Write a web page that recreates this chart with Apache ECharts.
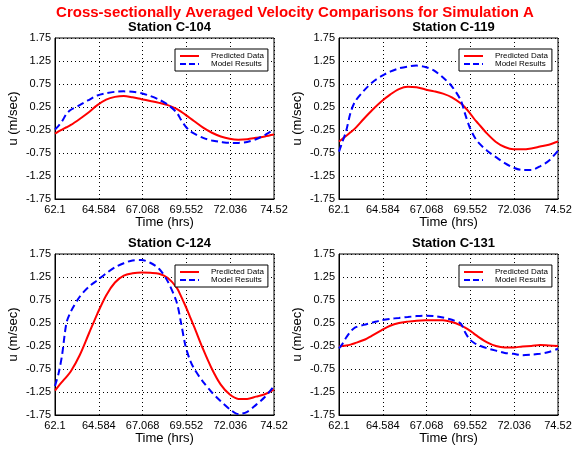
<!DOCTYPE html>
<html>
<head>
<meta charset="UTF-8">
<title>Velocity Comparisons</title>
<script src="https://cdn.jsdelivr.net/npm/echarts@6/dist/echarts.min.js"></script>
<style>
  html, body { margin: 0; padding: 0; background: #fff; }
  #main { width: 577px; height: 453px; }
</style>
</head>
<body>
<div id="main"></div>
<script>
// time samples (hrs), shared by every curve
var times = [62.1, 62.3, 62.5, 62.75, 63, 63.5, 64, 64.5, 65, 65.5, 66, 66.5, 67, 67.5, 68,
  68.5, 69, 69.25, 69.5, 69.75, 70, 70.5, 71, 71.5, 72, 72.5, 73, 73.5, 74, 74.52];

var c104Pred = [-0.33, -0.28, -0.24, -0.19, -0.14, -0.01, 0.13, 0.29, 0.41, 0.47, 0.49, 0.46, 0.42, 0.38, 0.34,
  0.29, 0.21, 0.15, 0.08, 0.01, -0.06, -0.20, -0.31, -0.39, -0.44, -0.46, -0.45, -0.42, -0.39, -0.35];
var c104Model = [-0.24, -0.16, -0.06, 0.10, 0.19, 0.29, 0.40, 0.50, 0.55, 0.58, 0.59, 0.58, 0.55, 0.49, 0.41,
  0.30, 0.13, -0.03, -0.17, -0.27, -0.33, -0.42, -0.48, -0.51, -0.53, -0.53, -0.51, -0.45, -0.36, -0.24];

var c119Pred = [-0.50, -0.44, -0.38, -0.30, -0.22, -0.01, 0.19, 0.37, 0.52, 0.64, 0.69, 0.68, 0.63, 0.59, 0.54,
  0.46, 0.33, 0.24, 0.13, 0.00, -0.11, -0.33, -0.51, -0.62, -0.67, -0.67, -0.65, -0.61, -0.57, -0.50];
var c119Model = [-0.72, -0.50, -0.28, 0.12, 0.36, 0.60, 0.79, 0.92, 1.02, 1.09, 1.13, 1.15, 1.12, 1.04, 0.89,
  0.70, 0.40, 0.10, -0.18, -0.38, -0.52, -0.70, -0.84, -0.97, -1.07, -1.12, -1.12, -1.04, -0.92, -0.70];

var c124Pred = [-1.22, -1.12, -1.03, -0.92, -0.80, -0.45, 0.00, 0.45, 0.85, 1.13, 1.28, 1.33, 1.35, 1.34, 1.32,
  1.23, 1.02, 0.83, 0.62, 0.39, 0.16, -0.32, -0.75, -1.09, -1.30, -1.40, -1.40, -1.35, -1.30, -1.20];
var c124Model = [-1.12, -0.85, -0.45, 0.25, 0.50, 0.82, 1.03, 1.18, 1.33, 1.46, 1.55, 1.61, 1.62, 1.56, 1.43,
  1.15, 0.70, 0.25, -0.25, -0.55, -0.75, -1.03, -1.26, -1.45, -1.62, -1.73, -1.68, -1.53, -1.36, -1.12];

var c131Pred = [-0.26, -0.25, -0.24, -0.22, -0.19, -0.12, -0.02, 0.09, 0.19, 0.25, 0.28, 0.30, 0.31, 0.31, 0.31,
  0.27, 0.20, 0.15, 0.09, 0.02, -0.05, -0.17, -0.25, -0.28, -0.28, -0.26, -0.25, -0.23, -0.24, -0.25];
var c131Model = [-0.30, -0.20, -0.07, 0.06, 0.15, 0.21, 0.26, 0.31, 0.34, 0.36, 0.38, 0.40, 0.41, 0.40, 0.37,
  0.32, 0.24, 0.05, -0.10, -0.18, -0.23, -0.30, -0.35, -0.40, -0.42, -0.45, -0.44, -0.42, -0.38, -0.31];

var stations = ['Station C-104', 'Station C-119', 'Station C-124', 'Station C-131'];
var predicted = [c104Pred, c119Pred, c124Pred, c131Pred];
var modelled = [c104Model, c119Model, c124Model, c131Model];

var xTicks = [62.1, 64.584, 67.068, 69.552, 72.036, 74.52];
var yTicks = [-1.75, -1.25, -0.75, -0.25, 0.25, 0.75, 1.25, 1.75];

var font = 'Liberation Sans, Arial, Helvetica, sans-serif';
// plot boxes: [left, top]
var boxes = [[55, 38], [339, 38], [55, 254], [339, 254]];
var boxW = 219, boxH = 161;
var dash = [7, 4];

function nearestLabel(ticks, v, digits) {
  var best = ticks[0];
  ticks.forEach(function (t) { if (Math.abs(t - v) < Math.abs(best - v)) best = t; });
  return digits ? best.toFixed(digits) : String(best);
}

function pairs(ys) {
  return times.map(function (t, i) { return [t, ys[i]]; });
}

var grids = [], xAxes = [], yAxes = [], series = [], legends = [];
var titles = [{
  text: 'Cross-sectionally Averaged Velocity Comparisons for Simulation A',
  left: 290, top: 0, textAlign: 'center',
  textStyle: { color: '#ff0000', fontSize: 15, fontWeight: 'bold', fontFamily: font }
}];

boxes.forEach(function (b, i) {
  grids.push({ left: b[0], top: b[1], width: boxW, height: boxH,
    show: true, borderColor: '#000', borderWidth: 1, backgroundColor: '#fff' });

  titles.push({
    text: stations[i], left: b[0] + boxW / 2, top: b[1] - 22, textAlign: 'center',
    textStyle: { color: '#000', fontSize: 13, fontWeight: 'bold', fontFamily: font }
  });

  xAxes.push({
    type: 'value', gridIndex: i,
    min: xTicks[0], max: xTicks[xTicks.length - 1], interval: xTicks[1] - xTicks[0],
    name: 'Time (hrs)', nameLocation: 'middle', nameGap: 15,
    nameTextStyle: { color: '#000', fontSize: 13, fontFamily: font },
    axisLine: { show: true, onZero: false, lineStyle: { color: '#000', width: 1 } },
    axisTick: { show: false },
    axisLabel: { color: '#000', fontSize: 11, fontFamily: font, margin: 5, showMaxLabel: true,
      formatter: function (v) { return nearestLabel(xTicks, v); } },
    splitLine: { show: true, lineStyle: { color: '#000', type: [1, 3], width: 1 } }
  });

  yAxes.push({
    type: 'value', gridIndex: i,
    min: yTicks[0], max: yTicks[yTicks.length - 1], interval: 0.5,
    name: 'u (m/sec)', nameLocation: 'middle', nameGap: 35,
    nameTextStyle: { color: '#000', fontSize: 13, fontFamily: font },
    axisLine: { show: true, onZero: false, lineStyle: { color: '#000', width: 1 } },
    axisTick: { show: false },
    axisLabel: { color: '#000', fontSize: 11, fontFamily: font, margin: 4,
      formatter: function (v) { return nearestLabel(yTicks, v, 2); } },
    splitLine: { show: true, lineStyle: { color: '#000', type: [1, 3], width: 1 } }
  });

  series.push({
    name: 'Predicted Data', type: 'line', xAxisIndex: i, yAxisIndex: i,
    data: pairs(predicted[i]), smooth: 0.3, symbol: 'none',
    lineStyle: { color: '#ff0000', width: 2 }, itemStyle: { color: '#ff0000' }
  });
  series.push({
    name: 'Model Results', type: 'line', xAxisIndex: i, yAxisIndex: i,
    data: pairs(modelled[i]), smooth: 0.3, symbol: 'none',
    lineStyle: { color: '#0000ff', width: 2, type: dash }, itemStyle: { color: '#0000ff' }
  });

  legends.push({
    data: [
      { name: 'Predicted Data', itemStyle: { opacity: 0 },
        lineStyle: { color: '#ff0000', width: 2, type: 'solid' } },
      { name: 'Model Results', itemStyle: { opacity: 0 },
        lineStyle: { color: '#0000ff', width: 2, type: [6, 3] } }
    ],
    orient: 'vertical', left: b[0] + 120, top: b[1] + 11,
    padding: [3, 4, 3, 4], itemGap: 0, itemWidth: 19, itemHeight: 8,
    borderColor: '#000', borderWidth: 1, backgroundColor: '#fff',
    selectedMode: false,
    textStyle: { color: '#000', fontSize: 8, fontFamily: font, padding: [0, 0, 0, 7], width: 46 }
  });
});

var chart = echarts.init(document.getElementById('main'), null, { renderer: 'canvas' });
chart.setOption({
  backgroundColor: '#fff',
  animation: false,
  title: titles,
  legend: legends,
  grid: grids,
  xAxis: xAxes,
  yAxis: yAxes,
  series: series
});
</script>
</body>
</html>
